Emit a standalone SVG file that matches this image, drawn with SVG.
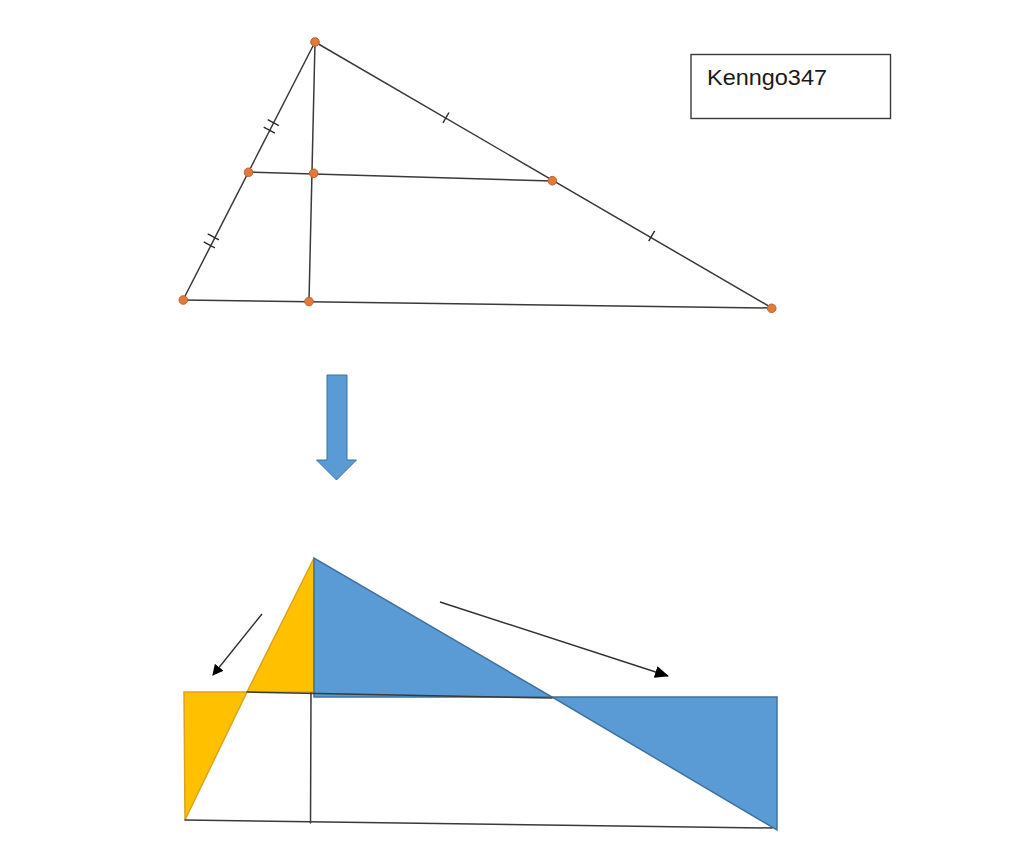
<svg xmlns="http://www.w3.org/2000/svg" width="1024" height="860" viewBox="0 0 1024 860">
<defs>
<style>
.ln{stroke:#3a3a3a;stroke-width:1.5;fill:none;stroke-linecap:round}
.tk{stroke:#2a2a2a;stroke-width:1.4;fill:none}
.pt{fill:#E07B39;stroke:#C0602A;stroke-width:1}
.yel{fill:#FFC000;stroke:#D9A520;stroke-width:1.5;stroke-linejoin:miter}
.blu{fill:#5B9BD5;stroke:#41719C;stroke-width:1.5}
.arr{stroke:#303030;stroke-width:1.4;fill:none}
</style>
<marker id="ah" viewBox="0 0 10 10" refX="9" refY="5" markerWidth="11" markerHeight="11" markerUnits="userSpaceOnUse" orient="auto">
<path d="M0,0 L10,5 L0,10 z" fill="#000"/>
</marker>
<marker id="ah2" viewBox="0 0 14 12" refX="13" refY="6" markerWidth="14" markerHeight="12" markerUnits="userSpaceOnUse" orient="auto">
<path d="M0,0 L14,6 L0,12 z" fill="#000"/>
</marker>
</defs>
<rect width="1024" height="860" fill="#fff"/>

<g id="top-triangle">
<g class="connectors-top">
<line class="ln" x1="315" y1="42" x2="183" y2="300"/>
<line class="ln" x1="315" y1="42" x2="772" y2="308"/>
<line class="ln" x1="183" y1="300" x2="772" y2="308"/>
<line class="ln" x1="315" y1="42" x2="309" y2="301"/>
<line class="ln" x1="248" y1="172" x2="552" y2="181"/>
</g>
<g id="ticks">
<line class="tk" x1="267.7" y1="119.7" x2="278.9" y2="125.7"/>
<line class="tk" x1="263.7" y1="127.2" x2="274.9" y2="133.2"/>
<line class="tk" x1="207.7" y1="233.8" x2="218.9" y2="239.8"/>
<line class="tk" x1="203.7" y1="241.8" x2="214.9" y2="247.8"/>
<line class="tk" x1="449" y1="112.5" x2="443" y2="122.9"/>
<line class="tk" x1="654.7" y1="230.8" x2="648.7" y2="241.2"/>
</g>
<g id="points">
<circle class="pt" cx="315" cy="42" r="4.3"/>
<circle class="pt" cx="248.5" cy="172.3" r="4.3"/>
<circle class="pt" cx="313.7" cy="173.3" r="4.3"/>
<circle class="pt" cx="552.3" cy="180.7" r="4.3"/>
<circle class="pt" cx="183.3" cy="300" r="4.3"/>
<circle class="pt" cx="309" cy="301.5" r="4.3"/>
<circle class="pt" cx="771.7" cy="308.3" r="4.3"/>
</g>
</g>

<g id="label-box">
<rect x="691" y="54.5" width="199.5" height="64" fill="#fff" stroke="#3a3a3a" stroke-width="1.4"/>
<text x="707" y="85" font-family="Liberation Sans, Arial, sans-serif" font-size="21.5" fill="#1a1a1a" textLength="120" lengthAdjust="spacingAndGlyphs">Kenngo347</text>
</g>

<g id="down-arrow">
<path d="M327,375 L347,375 L347,460 L356.5,460 L336.5,480 L316.5,460 L327,460 Z" fill="#5B9BD5" stroke="#41719C" stroke-width="1"/>
</g>

<g id="bottom-figure">
<polygon class="yel" points="314,558 247,692 314,692"/>
<polygon class="yel" points="184,692 247,692 185,820"/>
<polygon class="blu" points="314,558 314,697 552,697"/>
<polygon class="blu" points="552,697 777,697 777,830"/>
</g>

<g id="connectors">
<line class="ln" x1="247" y1="692" x2="552" y2="698"/>
<line class="ln" x1="311" y1="693" x2="310.5" y2="823"/>
<line class="ln" x1="185" y1="820" x2="772" y2="828"/>
<line class="arr" x1="262" y1="614" x2="213" y2="675" marker-end="url(#ah)"/>
<line class="arr" x1="440" y1="602" x2="668" y2="676" marker-end="url(#ah2)"/>
</g>
</svg>
